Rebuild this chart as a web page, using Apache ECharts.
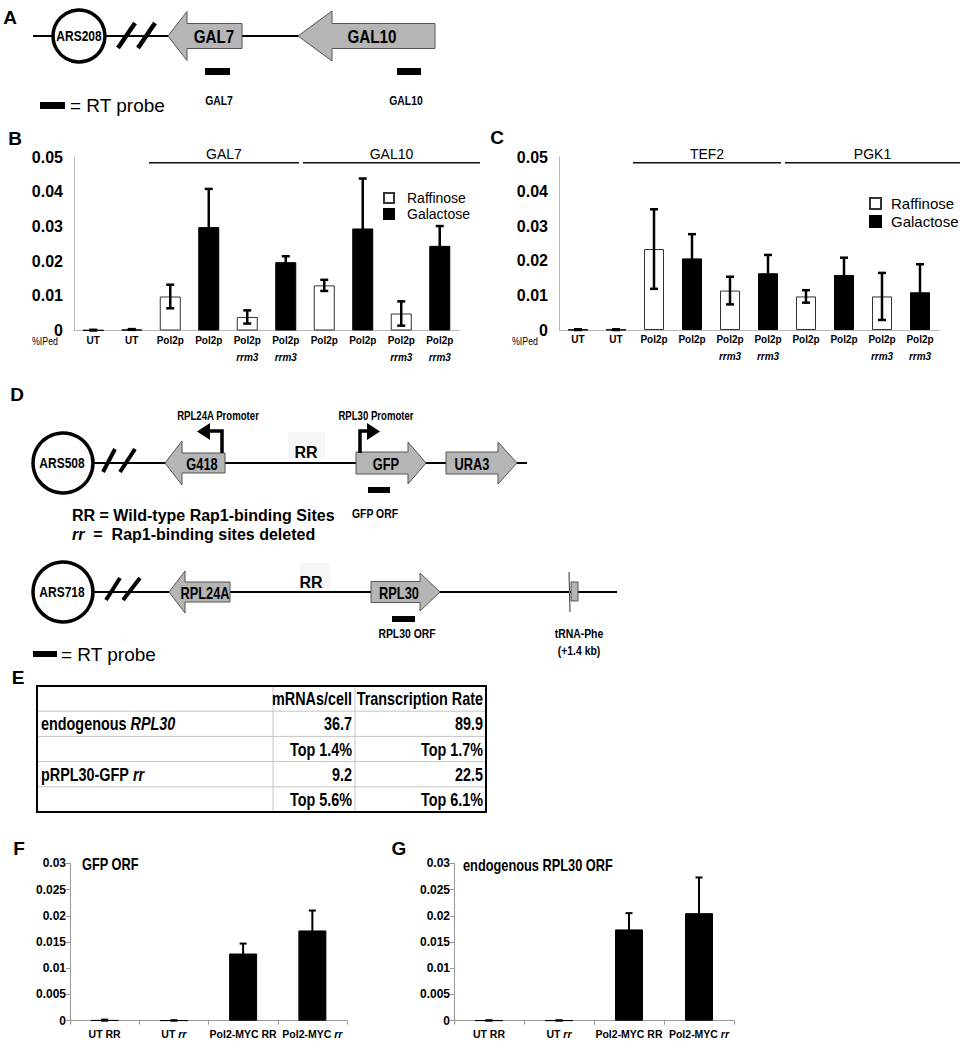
<!DOCTYPE html>
<html><head><meta charset="utf-8">
<script src="https://cdn.jsdelivr.net/npm/echarts@6/dist/echarts.min.js"></script>
<style>html,body{margin:0;padding:0;background:#fff}#c{width:973px;height:1050px}</style>
</head><body><div id="c"></div>
<script>
// ---------------- data ----------------
const seriesNames = ['Raffinose', 'Galactose'];
const bCategories = ['UT','UT','Pol2p','Pol2p','Pol2p rrm3','Pol2p rrm3','Pol2p','Pol2p','Pol2p rrm3','Pol2p rrm3'];
const bRaffinose = [null,null,0.0098,null,0.0039,null,0.0130,null,0.0049,null];
const bGalactose = [0.0001,0.0003,null,0.0298,null,0.0197,null,0.0294,null,0.0244];
const bError = [0.0001,0.0001,0.0034,0.0110,0.0019,0.0017,0.0016,0.0144,0.0035,0.0057];
const bGroups = [['GAL7',2,5],['GAL10',6,9]];

const cCategories = ['UT','UT','Pol2p','Pol2p','Pol2p rrm3','Pol2p rrm3','Pol2p','Pol2p','Pol2p rrm3','Pol2p rrm3'];
const cRaffinose = [null,null,0.0234,null,0.0114,null,0.0097,null,0.0097,null];
const cGalactose = [0.0001,0.0001,null,0.0207,null,0.0164,null,0.0159,null,0.0109];
const cError = [0.0001,0.0001,0.0115,0.0070,0.0040,0.0053,0.0018,0.0050,0.0068,0.0081];
const cGroups = [['TEF2',2,5],['PGK1',6,9]];

const fgCategories = ['UT RR','UT rr','Pol2-MYC RR','Pol2-MYC rr'];
const fValues = [0.0001,0.00005,0.0128,0.0172];
const fError = [0.0001,0,0.0019,0.0038];
const gValues = [0.00005,0.00005,0.0174,0.0205];
const gError = [0,0,0.0031,0.0068];

const tableHeader = ['', 'mRNAs/cell', 'Transcription Rate'];
const tableRows = [
  ['endogenous {i|RPL30}', '36.7', '89.9'],
  ['', 'Top 1.4%', 'Top 1.7%'],
  ['pRPL30-GFP {i|rr}', '9.2', '22.5'],
  ['', 'Top 5.6%', 'Top 6.1%']
];

// ---------------- styling / layout ----------------
const SANS = "Arial, 'Liberation Sans', sans-serif";
const NARROW_SCALE = 0.8;
const GRAYFILL = '#b5b5b5', GRAYSTROKE = '#555';

const gridB = {left:74, top:157, width:385, height:173.5};
const gridC = {left:559, top:157, width:380, height:173};
const gridF = {left:70, top:863.3, width:277, height:157.4};
const gridG = {left:454, top:863.3, width:280, height:157.4};

function combine(a, b){ return a.map((v,i)=> v != null ? v : b[i]); }

function errSeries(xi, vals, errs, capW, lw){
  return {
    type:'custom', xAxisIndex:xi, yAxisIndex:xi, silent:true, z:5,
    data: vals.map((v,i)=>[i, v, errs[i]]),
    renderItem(params, api){
      const i = api.value(0), v = api.value(1), e = api.value(2);
      const top = api.coord([i, v + e]);
      const bot = api.coord([i, Math.max(0, v - e)]);
      const x = top[0];
      const st = {stroke:'#000', lineWidth:lw};
      return {type:'group', children:[
        {type:'line', shape:{x1:x, y1:top[1], x2:x, y2:bot[1]}, style:st},
        {type:'line', shape:{x1:x-capW/2, y1:top[1], x2:x+capW/2, y2:top[1]}, style:st},
        {type:'line', shape:{x1:x-capW/2, y1:bot[1], x2:x+capW/2, y2:bot[1]}, style:st}
      ]};
    }
  };
}

const fmtBC = s => s.replace(' rrm3', '\n{i|rrm3}');
const fmtFG = s => s.replace(/ rr$/, ' {i|rr}');
const fmt2 = v => v === 0 ? '0' : v.toFixed(2);
const fmt3 = v => v === 0 ? '0' : String(parseFloat(v.toFixed(3)));

function xAxisBC(idx, cats){
  return {type:'category', gridIndex:idx, data:cats,
    axisLine:{lineStyle:{color:'#b8b8b8', width:1}}, axisTick:{show:false},
    axisLabel:{interval:0, margin:1, color:'#000', fontSize:10, fontWeight:'bold', fontFamily:SANS, lineHeight:17,
      formatter:fmtBC, rich:{i:{fontStyle:'italic', fontWeight:'bold', fontSize:10, fontFamily:SANS, lineHeight:17, color:'#000'}}}};
}
function yAxisBC(idx){
  return {type:'value', gridIndex:idx, min:0, max:0.05, interval:0.01,
    axisLine:{show:true, lineStyle:{color:'#b8b8b8'}}, axisTick:{show:false}, splitLine:{show:false},
    axisLabel:{color:'#000', fontSize:16, fontWeight:'bold', fontFamily:SANS, margin:11, formatter:fmt2}};
}
function xAxisFG(idx){
  return {type:'category', gridIndex:idx, data:fgCategories,
    axisLine:{lineStyle:{color:'#999'}}, axisTick:{show:true, length:4, lineStyle:{color:'#999'}},
    axisLabel:{interval:0, margin:8, color:'#000', fontSize:10.5, fontWeight:'bold', fontFamily:SANS,
      formatter:fmtFG, rich:{i:{fontStyle:'italic', fontWeight:'bold', fontSize:10.5, fontFamily:SANS, color:'#000'}}}};
}
function yAxisFG(idx){
  return {type:'value', gridIndex:idx, min:0, max:0.03, interval:0.005,
    axisLine:{show:true, lineStyle:{color:'#999'}}, axisTick:{show:true, length:4, lineStyle:{color:'#999'}},
    splitLine:{show:false},
    axisLabel:{color:'#000', fontSize:12, fontWeight:'bold', fontFamily:SANS, margin:4, formatter:fmt3}};
}

// ---------------- graphic helpers ----------------
const G = [];
function T(text, x, y, o, narrow){
  o = o || {};
  G.push({type:'text', x:x, y:y, z:10, scaleX: narrow ? NARROW_SCALE : 1,
    style:Object.assign({text:text, fill:'#000', fontFamily:SANS, fontSize:12,
      fontWeight:'normal', align:'center', verticalAlign:'middle'}, o)});
}
function L(x1,y1,x2,y2,w,c){ G.push({type:'line', z:2, shape:{x1,y1,x2,y2}, style:{stroke:c||'#000', lineWidth:w||1}}); }
function R(x,y,w,h,fill){ G.push({type:'rect', z:3, shape:{x,y,width:w,height:h}, style:{fill:fill}}); }
function circ(cx,cy,r,w){ G.push({type:'circle', z:3, shape:{cx,cy,r}, style:{fill:'#fff', stroke:'#000', lineWidth:w}}); }
function arrowL(tip, headBase, end, y, bh, hh){
  G.push({type:'polygon', z:3, shape:{points:[[tip,y],[headBase,y-hh],[headBase,y-bh],[end,y-bh],[end,y+bh],[headBase,y+bh],[headBase,y+hh]]},
    style:{fill:GRAYFILL, stroke:GRAYSTROKE, lineWidth:1}});
}
function arrowR(start, headBase, tip, y, bh, hh){
  G.push({type:'polygon', z:3, shape:{points:[[start,y-bh],[headBase,y-bh],[headBase,y-hh],[tip,y],[headBase,y+hh],[headBase,y+bh],[start,y+bh]]},
    style:{fill:GRAYFILL, stroke:GRAYSTROKE, lineWidth:1}});
}
function letter(t,x,y){ T(t,x,y,{fontSize:19, fontWeight:'bold'}); }
const NB = (size, extra) => Object.assign({fontSize:size, fontWeight:'bold'}, extra || {});

// panel letters
letter('A',10,17); letter('B',15,138); letter('C',497,137); letter('D',17,394);
letter('E',18,677); letter('F',19,848); letter('G',399,848);

// ---- Panel A diagram ----
L(33,36,300,36,2);
circ(79,36,26,3.5);
T('ARS208',79,36,NB(15),true);
L(118,48,135,23,4.5); L(138,48,155,23,4.5);
arrowL(168,187,242,36,12.5,24.5);
arrowL(298,332,435,36,12.5,25);
T('GAL7',214,36,{fontSize:19, fontWeight:'bold'}, true);
T('GAL10',372,36,{fontSize:19, fontWeight:'bold'}, true);
R(205,68,25,7,'#000'); R(397,68,24,7,'#000');
T('GAL7',219,100,NB(13),true);
T('GAL10',406,100,NB(13),true);
R(40,102,25,7,'#000');
T('= RT probe',70,105,{fontSize:19, align:'left'});

// ---- Panel D diagram ----
// row 1
L(94,463,527,463,2);
R(288,432,37,26,'#f6f6f6');
circ(63,463,30,3.5);
T('ARS508',62,463,NB(15),true);
L(103,472,115,449,4); L(120,472,135,449,4);
arrowL(165,182,225,463,10,22);
T('G418',202,464,NB(16),true);
arrowR(356,408,426,463,11,21);
T('GFP',386,464,NB(16),true);
arrowR(446,498,517,463,11,21);
T('URA3',472,464,NB(16),true);
G.push({type:'polyline', z:4, shape:{points:[[222,453],[222,431],[209,431]]}, style:{stroke:'#000', fill:null, lineWidth:3.5}});
G.push({type:'polygon', z:4, shape:{points:[[210,423],[210,440],[197,431.5]]}, style:{fill:'#000'}});
G.push({type:'polyline', z:4, shape:{points:[[360,453],[360,431],[368,431]]}, style:{stroke:'#000', fill:null, lineWidth:3.5}});
G.push({type:'polygon', z:4, shape:{points:[[367,423],[367,440],[380,431.5]]}, style:{fill:'#000'}});
T('RPL24A Promoter',218,416,NB(12),true);
T('RPL30 Promoter',376,416,NB(12),true);
T('RR',306,452,{fontSize:16, fontWeight:'bold'});
R(368,487,22,6,'#000');
T('GFP ORF',375,513,NB(13),true);
T('RR = Wild-type Rap1-binding Sites',72,515,{fontSize:16, fontWeight:'bold', align:'left'});
T('{i|rr}  =  Rap1-binding sites deleted',72,534,{fontSize:16, fontWeight:'bold', align:'left',
  rich:{i:{fontStyle:'italic', fontWeight:'bold', fontSize:16, fontFamily:SANS}}});
// row 2
L(94,592,617,592,2);
R(300,563,30,26,'#f6f6f6');
circ(63,592,30,3.5);
T('ARS718',62,592,NB(15),true);
L(106,600,120,578,4); L(123,600,140,578,4);
arrowL(169,185,230,592,10,21);
T('RPL24A',205,593,NB(16),true);
T('RR',311,582,{fontSize:16, fontWeight:'bold'});
arrowR(371,420,440,592,10.5,19);
T('RPL30',399,593,NB(16),true);
L(569,572,570,612,1.2,GRAYSTROKE);
G.push({type:'rect', z:3, shape:{x:571,y:582,width:7,height:19}, style:{fill:GRAYFILL, stroke:GRAYSTROKE, lineWidth:1}});
R(392,616,23,6,'#000');
T('RPL30 ORF',407,633,NB(13),true);
T('tRNA-Phe',579,633,NB(13),true);
T('(+1.4 kb)',579,650,NB(13),true);
R(33,651,24,6,'#000');
T('= RT probe',61,654,{fontSize:19, align:'left'});

// ---- Panel E table ----
(function(){
  const left=37, right=486, top=686, rowH=25.2, cols=[273,355];
  const rows=[tableHeader].concat(tableRows);
  const bottom = top + rowH*rows.length;
  for(let r=1;r<rows.length;r++) L(left, top+r*rowH, right, top+r*rowH, 1, '#c4c4c4');
  cols.forEach(x=>L(x, top, x, bottom, 1, '#c4c4c4'));
  G.push({type:'rect', z:6, shape:{x:left,y:top,width:right-left,height:bottom-top}, style:{fill:null, stroke:'#000', lineWidth:2}});
  const base={fontSize:18, fontWeight:'bold', rich:{i:{fontStyle:'italic', fontWeight:'bold', fontSize:18, fontFamily:SANS}}};
  rows.forEach((row,r)=>{
    const y = top + rowH*(r+0.5);
    if(row[0]) T(row[0], left+4, y, Object.assign({align:'left'}, base), true);
    T(row[1], cols[1]-3, y, Object.assign({align:'right'}, base), true);
    T(row[2], right-3, y, Object.assign({align:'right'}, base), true);
  });
})();

// ---- group lines over B and C ----
function groupLines(grid, groups, n){
  const cw = grid.width/n;
  groups.forEach((g,k)=>{
    const last = k === groups.length-1;
    const x1 = grid.left + g[1]*cw - 2;
    const x2 = grid.left + (g[2]+1)*cw + (last ? 21 : -6);
    L(x1, 162.7, x2, 162.7, 1.6, '#111');
    T(g[0], (x1+x2)/2, 154, {fontSize:14});
  });
}
groupLines(gridB, bGroups, bCategories.length);
groupLines(gridC, cGroups, cCategories.length);
T('%IPed', 45, 341, {fontSize:11}, true);
T('%IPed', 525, 341, {fontSize:11}, true);
T('GFP ORF', 82, 864, NB(16, {align:'left'}), true);
T('endogenous RPL30 ORF', 463, 865, NB(16, {align:'left'}), true);

// ---------------- chart ----------------
const chart = echarts.init(document.getElementById('c'), null, {renderer:'svg', width:973, height:1050});
const bar = (name, xi, data, color, border, w) => ({
  type:'bar', name:name, xAxisIndex:xi, yAxisIndex:xi, data:data, barWidth:w, barGap:'-100%',
  itemStyle:{color:color, borderColor:border, borderWidth:1}, z:3, silent:true
});
const legendRich = pad => ({rich:{a:{padding:[0,0,0,pad]}}});
chart.setOption({
  backgroundColor:'#fff',
  animation:false,
  grid:[gridB, gridC, gridF, gridG].map(g=>Object.assign({outerBoundsMode:'none'}, g)),
  xAxis:[xAxisBC(0,bCategories), xAxisBC(1,cCategories), xAxisFG(2), xAxisFG(3)],
  yAxis:[yAxisBC(0), yAxisBC(1), yAxisFG(2), yAxisFG(3)],
  legend:[
    {left:383, top:191, orient:'vertical', data:seriesNames, itemWidth:10, itemHeight:10, itemGap:2, icon:'rect',
      selectedMode:false, padding:0, formatter:n=>'{a|'+n+'}',
      textStyle:Object.assign({fontSize:14, color:'#000', fontFamily:SANS}, legendRich(8))},
    {left:869, top:196, orient:'vertical', data:seriesNames, itemWidth:11, itemHeight:11, itemGap:3, icon:'rect',
      selectedMode:false, padding:0, formatter:n=>'{a|'+n+'}',
      textStyle:Object.assign({fontSize:15, color:'#000', fontFamily:SANS}, legendRich(5))}
  ],
  series:[
    bar(seriesNames[0], 0, bRaffinose, '#fff', '#333', 21),
    bar(seriesNames[1], 0, bGalactose, '#000', '#000', 21),
    errSeries(0, combine(bRaffinose,bGalactose), bError, 8, 2.5),
    bar(seriesNames[0], 1, cRaffinose, '#fff', '#333', 20),
    bar(seriesNames[1], 1, cGalactose, '#000', '#000', 20),
    errSeries(1, combine(cRaffinose,cGalactose), cError, 8, 2.5),
    bar('F', 2, fValues, '#000', '#000', 28),
    errSeries(2, fValues, fError, 7, 2),
    bar('G', 3, gValues, '#000', '#000', 28),
    errSeries(3, gValues, gError, 7, 2)
  ],
  graphic:G
});
</script></body></html>
